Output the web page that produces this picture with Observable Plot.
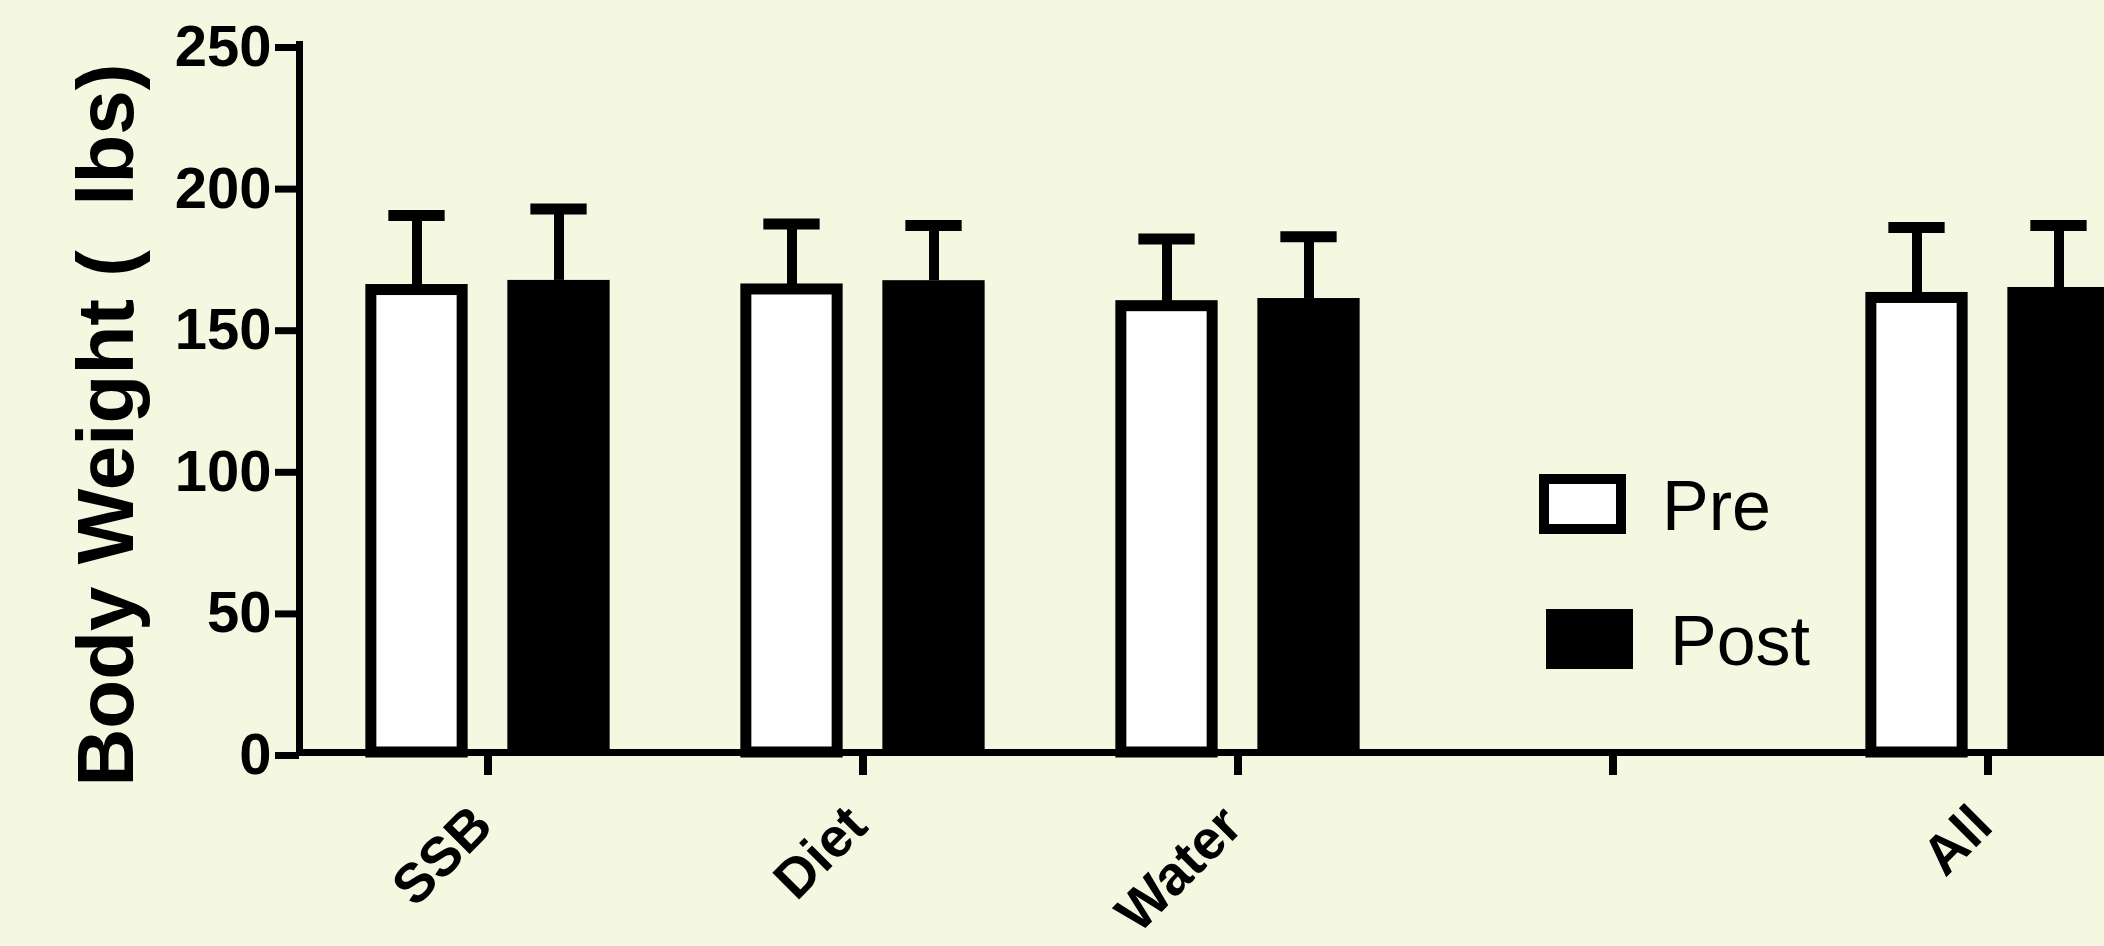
<!DOCTYPE html>
<html>
<head>
<meta charset="utf-8">
<script src="https://cdn.jsdelivr.net/npm/d3@7"></script>
<script src="https://cdn.jsdelivr.net/npm/@observablehq/plot@0.6"></script>
<style>
  html, body { margin: 0; padding: 0; background: #f5f8e1; overflow: hidden; }
  #wrap { position: relative; width: 2104px; height: 946px; background: #f5f8e1; }
  #wrap svg { display: block; }
  .lg-box { position: absolute; box-sizing: border-box; }
  .lg-text { position: absolute; font-family: "Liberation Sans", Arial, sans-serif; font-size: 70px; line-height: 1; color: #000; white-space: pre; }
</style>
</head>
<body>
<div id="wrap"></div>
<script>
// ---- data ----
const groups   = ["SSB", "Diet", "Water", "", "All"];
const preMean  = [163.3, 163.5, 157.6, null, 160.5];
const postMean = [166.7, 166.6, 160.3, null, 164.2];
const preSD    = [26.3, 23.1, 23.7, null, 24.9];
const postSD   = [25.2, 19.5, 21.8, null, 21.9];
const yTicks   = [0, 50, 100, 150, 200, 250];
const seriesNames = ["Pre", "Post"];
const yTitle   = "Body Weight (  lbs)";

// ---- table for the marks ----
const rows = groups
  .map((g, i) => ({group: g, pre: preMean[i], post: postMean[i], preSD: preSD[i], postSD: postSD[i]}))
  .filter(d => d.pre != null)
  .map(d => ({...d, preTop: d.pre + d.preSD, postTop: d.post + d.postSD}));
const labelRows = groups.filter(g => g !== "").map(g => ({group: g}));

// ---- layout ----
const W = 2104, H = 946;
const FONT = '"Liberation Sans", Arial, Helvetica, sans-serif';
const frameLeft = 299, frameTop = 44, frameBottom = 752;
const xStart = 298.2, step = 375.7;     // band layout (right part runs off the page, as in the reference)
const off = 71;                          // half distance between Pre and Post bar centers
const barW = 103;                        // outer bar width
const preStroke = 11;
const capW = 57;

const half = step / 2;
const preInL  = half - off - (barW - preStroke) / 2;
const preInR  = half + off - (barW - preStroke) / 2;
const postInL = half + off - barW / 2;
const postInR = half - off - barW / 2;
const preCapL  = half - off - capW / 2, preCapR  = half + off - capW / 2;
const postCapL = half + off - capW / 2, postCapR = half - off - capW / 2;

const chart = Plot.plot({
  width: W,
  height: H,
  marginLeft: frameLeft,
  marginRight: 0,
  marginTop: frameTop,
  marginBottom: H - frameBottom,
  style: {background: "transparent", fontFamily: FONT, color: "black", overflow: "hidden"},
  x: {type: "band", domain: groups, range: [xStart, xStart + step * groups.length], padding: 0},
  y: {domain: [0, 250], range: [frameBottom, frameTop]},
  marks: [
    Plot.barY(rows, {x: "group", y1: 0, y2: "pre", fill: "white", stroke: "black", strokeWidth: preStroke, insetLeft: preInL, insetRight: preInR}),
    Plot.barY(rows, {x: "group", y1: 0, y2: "post", fill: "black", insetLeft: postInL, insetRight: postInR}),
    Plot.ruleX(rows, {x: "group", y1: "pre", y2: "preTop", stroke: "black", strokeWidth: 10, dx: -off}),
    Plot.ruleX(rows, {x: "group", y1: "post", y2: "postTop", stroke: "black", strokeWidth: 10, dx: off}),
    Plot.tickY(rows, {x: "group", y: "preTop", stroke: "black", strokeWidth: 11, insetLeft: preCapL, insetRight: preCapR}),
    Plot.tickY(rows, {x: "group", y: "postTop", stroke: "black", strokeWidth: 11, insetLeft: postCapL, insetRight: postCapR}),
    Plot.ruleY([0], {stroke: "black", strokeWidth: 7}),
    Plot.frame({anchor: "left", stroke: "black", strokeWidth: 7, strokeLinecap: "square"}),
    Plot.axisY({ticks: yTicks, tickSize: 24, tickPadding: 4, stroke: "black", strokeWidth: 7, fill: "black",
                fontSize: 58, fontWeight: "bold", fontFamily: FONT, dy: 3, label: null}),
    Plot.axisX({tickSize: 23, stroke: "black", strokeWidth: 8, fill: "none", label: null}),
    Plot.text(labelRows, {x: "group", frameAnchor: "bottom", text: "group", rotate: -45, textAnchor: "end",
                          lineAnchor: "bottom", dx: 7, dy: 76, fontSize: 55, fontWeight: "bold", fontFamily: FONT, fill: "black"}),
    Plot.text([yTitle], {frameAnchor: "left", rotate: -90, textAnchor: "middle", lineAnchor: "bottom",
                         dx: -167, dy: 26.5, fontSize: 80, fontWeight: "bold", fontFamily: FONT, fill: "black"})
  ]
});

const wrap = document.getElementById("wrap");
wrap.appendChild(chart);

// ---- legend (inside the plot area, as in the reference) ----
const legendItems = [
  {name: seriesNames[0], box: {left: 1539, top: 474, width: 87, height: 60, background: "white", border: "10px solid black"}, text: {left: 1662, top: 471}},
  {name: seriesNames[1], box: {left: 1546, top: 609, width: 87, height: 60, background: "black", border: "none"}, text: {left: 1670, top: 606}}
];
for (const item of legendItems) {
  const b = document.createElement("div");
  b.className = "lg-box";
  Object.assign(b.style, {left: item.box.left + "px", top: item.box.top + "px", width: item.box.width + "px",
    height: item.box.height + "px", background: item.box.background, border: item.box.border});
  wrap.appendChild(b);
  const t = document.createElement("div");
  t.className = "lg-text";
  t.textContent = item.name;
  Object.assign(t.style, {left: item.text.left + "px", top: item.text.top + "px"});
  wrap.appendChild(t);
}
</script>
</body>
</html>
